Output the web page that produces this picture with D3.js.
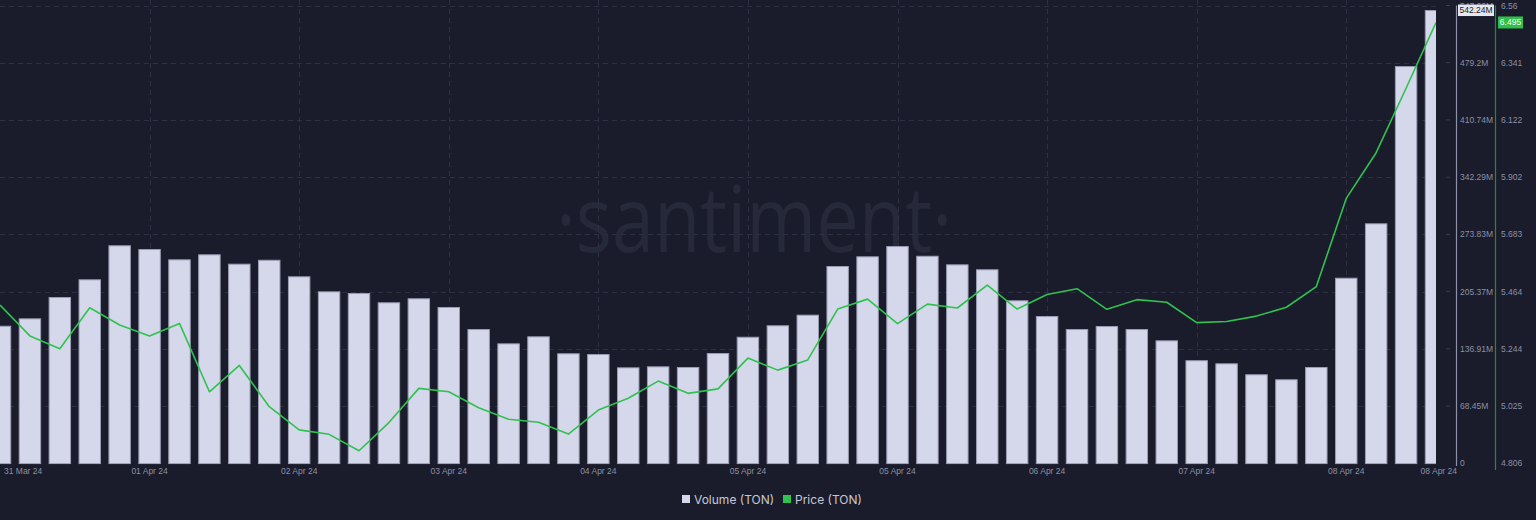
<!DOCTYPE html>
<html><head><meta charset="utf-8">
<script src="https://cdn.jsdelivr.net/npm/d3@7"></script>
<style>
html,body{margin:0;padding:0;background:#1a1c2b;}
svg{display:block;font-family:"Liberation Sans",Arial,sans-serif;}
</style></head>
<body>
<svg id="c" width="1536" height="520"></svg>
<script>
// ---- data ----
const volumeM = [164.6,173.4,198.9,220.1,260.8,256.3,244.0,250.0,238.8,243.5,
  223.7,205.7,203.7,192.6,197.4,187.0,160.6,143.5,151.9,131.6,
  130.7,114.8,116.0,115.2,131.9,151.4,165.1,177.8,236.0,247.6,
  259.9,248.3,238.0,232.1,195.0,176.2,160.6,164.2,160.6,147.1,
  123.3,119.6,106.5,100.5,115.2,222.0,287.1,475.2,542.24];
const price = [5.412,5.294,5.245,5.402,5.336,5.294,5.342,5.080,5.181,5.023,
  4.934,4.917,4.854,4.962,5.093,5.080,5.019,4.975,4.963,4.918,
  5.010,5.055,5.121,5.074,5.091,5.209,5.163,5.202,5.397,5.435,
  5.341,5.416,5.401,5.489,5.397,5.453,5.475,5.396,5.433,5.423,
  5.345,5.349,5.370,5.404,5.483,5.821,5.996,6.243,6.495];
const dateLabels = ["01 Apr 24","02 Apr 24","03 Apr 24","04 Apr 24","05 Apr 24","05 Apr 24","06 Apr 24","07 Apr 24","08 Apr 24"];
const dateTickIdx = [5,10,15,20,25,30,35,40,45];
const firstLabel = "31 Mar 24";
const lastLabel = "08 Apr 24";
const volTicks = [0,68.4575,136.915,205.3725,273.83,342.2875,410.745,479.2025,547.66];
const volTickLabels = ["0","68.45M","136.91M","205.37M","273.83M","342.29M","410.74M","479.2M","547.66M"];
const priceTicks = [4.806,5.025,5.244,5.464,5.683,5.902,6.122,6.341,6.56];
const priceTickLabels = ["4.806","5.025","5.244","5.464","5.683","5.902","6.122","6.341","6.56"];
const seriesNames = ["Volume (TON)","Price (TON)"];

// ---- layout ----
const svg = d3.select("#c");
const W = 1536, H = 520;
const plotL = 0, plotR = 1436, yTop = 5.5, yBot = 463.3;
const barColor = "#d5d8ea", barStroke = "#9a9db3", lineColor = "#2fc24f";
const axisText = "#8c90a3";

svg.append("rect").attr("width",W).attr("height",H).attr("fill","#1a1c2b");

const x = d3.scaleLinear().domain([0, volumeM.length-1]).range([plotL, plotR]);
const yV = d3.scaleLinear().domain([0,547.66]).range([yBot, yTop]);
const yP = d3.scaleLinear().domain([4.806,6.56]).range([yBot, yTop]);
const step = x(1)-x(0);
const bw = step*0.75;

svg.append("defs").append("clipPath").attr("id","clip")
  .append("rect").attr("x",plotL).attr("y",0).attr("width",plotR-plotL).attr("height",yBot+1);

// watermark
svg.append("text").attr("x",754).attr("y",252).attr("text-anchor","middle")
  .attr("font-family","'Open Sans', 'Noto Sans', sans-serif").attr("font-weight",400)
  .attr("font-size",92).attr("fill","#252939")
  .attr("textLength",396).attr("lengthAdjust","spacingAndGlyphs")
  .text("·santiment·");

// grid
const grid = svg.append("g");
grid.selectAll("line.h").data(volTicks.slice(1)).join("line")
  .attr("x1",plotL).attr("x2",plotR).attr("y1",d=>Math.round(yV(d))+0.5).attr("y2",d=>Math.round(yV(d))+0.5)
  .attr("stroke","#2c3042").attr("stroke-dasharray","5,4");
grid.selectAll("line.v").data(dateTickIdx).join("line")
  .attr("x1",d=>Math.round(x(d))+0.5).attr("x2",d=>Math.round(x(d))+0.5).attr("y1",0).attr("y2",yBot)
  .attr("stroke","#2c3042").attr("stroke-dasharray","5,4");

// bars
const g = svg.append("g").attr("clip-path","url(#clip)");
g.selectAll("rect.bar").data(volumeM).join("rect")
  .attr("x",(d,i)=>x(i)-bw/2+0.5).attr("width",bw-1)
  .attr("y",d=>yV(d)+0.5).attr("height",d=>yBot-yV(d))
  .attr("fill",barColor).attr("stroke",barStroke).attr("stroke-width",1);

// price line
g.append("path").datum(price)
  .attr("d",d3.line().x((d,i)=>x(i)).y(d=>yP(d)))
  .attr("fill","none").attr("stroke",lineColor).attr("stroke-width",1.6).attr("stroke-linejoin","round");

// x axis labels
const xl = svg.append("g").attr("font-size",8.5).attr("fill",axisText);
xl.selectAll("text").data(dateTickIdx).join("text")
  .attr("x",d=>x(d)).attr("y",474).attr("text-anchor","middle")
  .text((d,i)=>dateLabels[i]);
xl.append("text").attr("x",4).attr("y",474).text(firstLabel);
xl.append("text").attr("x",1457).attr("y",474).attr("text-anchor","end").text(lastLabel);

// volume axis
const ax = svg.append("g");
ax.append("line").attr("x1",1456.5).attr("x2",1456.5).attr("y1",yTop).attr("y2",466).attr("stroke","#8e91a5").attr("stroke-width",1.2);
ax.selectAll("line.t").data(volTicks.slice(1)).join("line")
  .attr("x1",1446).attr("x2",1450).attr("y1",d=>yV(d)).attr("y2",d=>yV(d)).attr("stroke","#3a3e52");
ax.selectAll("text.v").data(volTicks).join("text")
  .attr("x",1460).attr("y",d=>yV(d)+3).attr("font-size",8.5).attr("fill",axisText)
  .text((d,i)=>volTickLabels[i]);

// price axis
ax.append("line").attr("x1",1495.5).attr("x2",1495.5).attr("y1",yTop).attr("y2",470).attr("stroke","#1f8c3b").attr("stroke-width",1.2);
ax.selectAll("text.p").data(priceTicks).join("text")
  .attr("x",1501).attr("y",d=>yP(d)+3).attr("font-size",8.5).attr("fill",axisText)
  .text((d,i)=>priceTickLabels[i]);

// last value badges
const lastV = volumeM[volumeM.length-1], lastP = price[price.length-1];
ax.append("rect").attr("x",1458).attr("y",yV(lastV)-5.5).attr("width",36).attr("height",11.5).attr("fill","#e4e6f0");
ax.append("text").attr("x",1476).attr("y",yV(lastV)+3).attr("text-anchor","middle").attr("font-size",8.5).attr("fill","#1a1c2b")
  .text(lastV.toFixed(2)+"M");
ax.append("rect").attr("x",1498).attr("y",yP(lastP)-6).attr("width",25).attr("height",12).attr("fill","#2fbf4c");
ax.append("text").attr("x",1510.5).attr("y",yP(lastP)+3).attr("text-anchor","middle").attr("font-size",8.5).attr("fill","#f2fff4")
  .text(lastP.toFixed(3));

// legend
const lg = svg.append("g").attr("font-size",12).attr("fill","#c6c8d6").attr("font-family","Inter, 'Noto Sans', sans-serif");
lg.append("rect").attr("x",682).attr("y",495).attr("width",8).attr("height",8).attr("fill",barColor);
lg.append("text").attr("x",694).attr("y",503.5).text(seriesNames[0]);
lg.append("rect").attr("x",783).attr("y",495).attr("width",8).attr("height",8).attr("fill",lineColor);
lg.append("text").attr("x",795).attr("y",503.5).text(seriesNames[1]);
</script>
</body></html>
